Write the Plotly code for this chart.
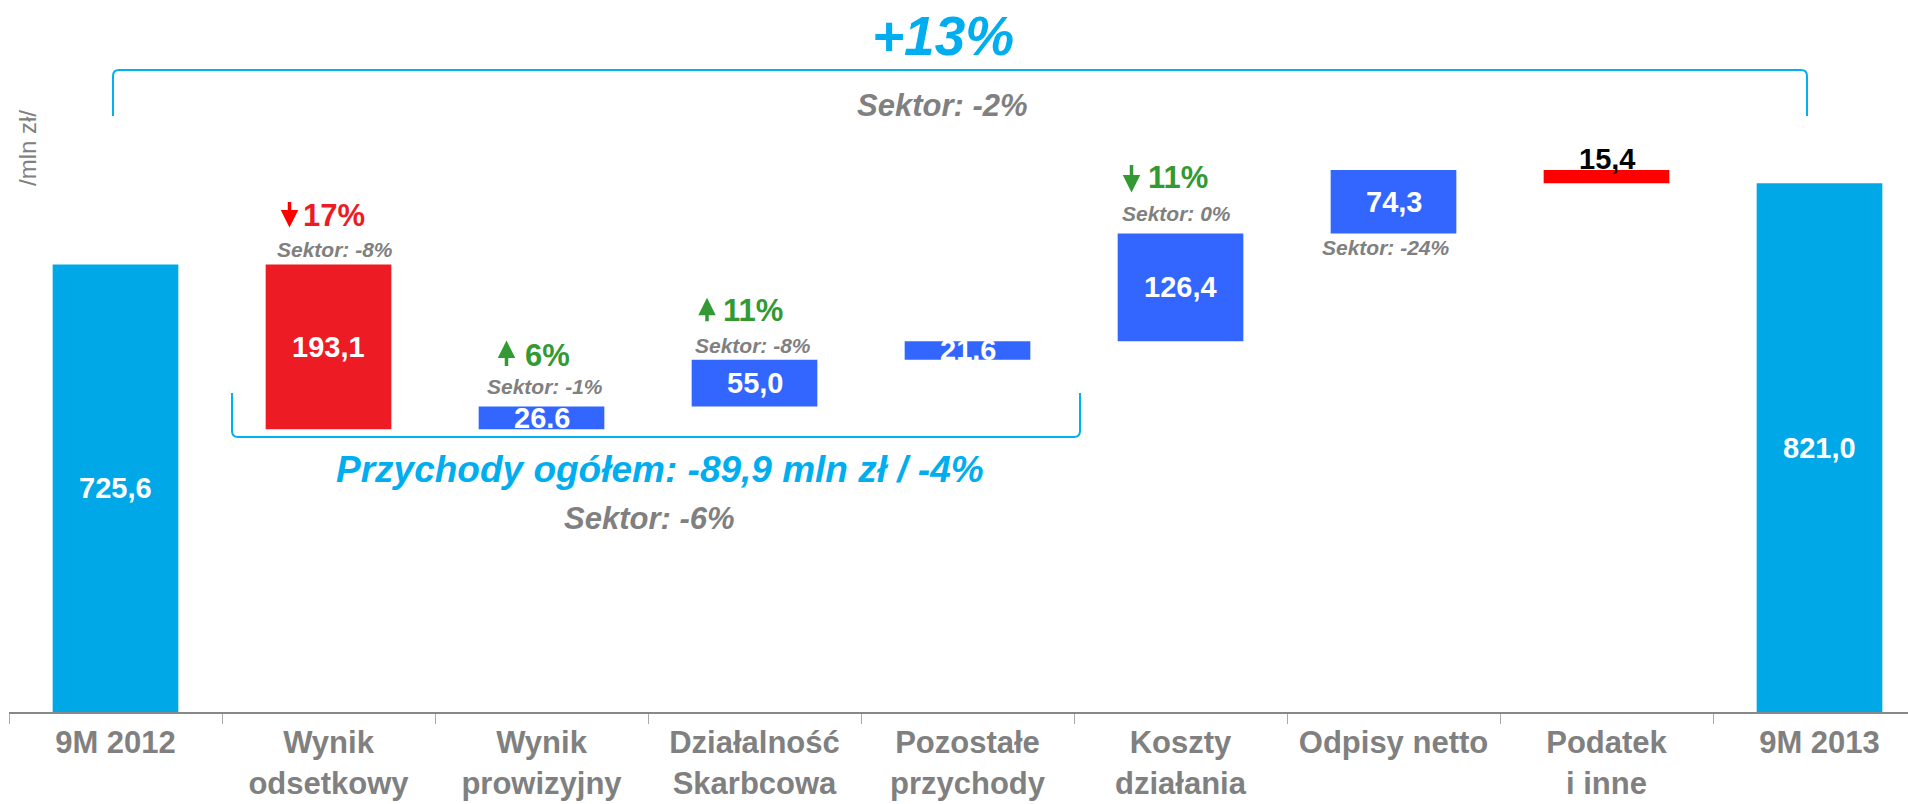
import plotly.graph_objects as go

# ---------------- data ----------------
categories = ["9M 2012", "Wynik<br>odsetkowy", "Wynik<br>prowizyjny", "Działalność<br>Skarbcowa",
              "Pozostałe<br>przychody", "Koszty<br>działania", "Odpisy netto", "Podatek<br>i inne", "9M 2013"]
start_value = 725.6
changes = [-193.1, 26.6, 55.0, 21.6, 126.4, 74.3, -15.4]   # effect on net profit
end_value = 821.0
value_labels = ["725,6", "193,1", "26.6", "55,0", "21.6", "126,4", "74,3", "15,4", "821,0"]
change_pct = [None, "17%", "6%", "11%", None, "11%", None, None, None]
change_dir = [None, "down", "up", "up", None, "down", None, None, None]
sector_labels = [None, "Sektor: -8%", "Sektor: -1%", "Sektor: -8%", None, "Sektor: 0%", "Sektor: -24%", None, None]
total_change = "+13%"
total_sector = "Sektor: -2%"
revenue_text = "Przychody ogółem: -89,9 mln zł / -4%"
revenue_sector = "Sektor: -6%"
unit_label = "/mln zł/"

# ---------------- styles ----------------
FONT = "Liberation Sans, Arial, sans-serif"
CYAN = "#00A8E8"
CYAN_TXT = "#00AEEF"
RED = "#ED1C24"
RED2 = "#FF0000"
BLUE = "#3366FF"
GREEN = "#339933"
GRAY = "#808080"

Y_MIN = 201
Y_MAX = 201 + 712 / 0.853

# waterfall geometry from data
bases, heights = [0.0], [start_value]
running = start_value
for d in changes:
    new = running + d
    bases.append(min(running, new))
    heights.append(abs(d))
    running = new
bases.append(0.0)
heights.append(running)
tops = [b + h for b, h in zip(bases, heights)]

colors = [CYAN, RED, BLUE, BLUE, BLUE, BLUE, BLUE, RED2, CYAN]

fig = go.Figure()
fig.add_trace(go.Bar(x=categories, y=heights, base=bases, marker=dict(color=colors, line=dict(width=0)),
                     width=0.59, hoverinfo="skip", textposition="none"))

# pixel helpers for decorations (plot area: x 9..1908, y 0..712)
PX0, PXW, PYH = 9, 1899, 712
def px(x):
    return (x - PX0) / PXW
def py(y):
    return (PYH - y) / PYH

ann = []
# value labels (centred on the visible part of each bar)
for i, (c, b, t, lab) in enumerate(zip(categories, bases, tops, value_labels)):
    if i == 7:
        ann.append(dict(x=c, y=t, text=lab, showarrow=False, yanchor="middle", yshift=11,
                        font=dict(family=FONT, size=29, color="black", weight="bold")))
    else:
        ann.append(dict(x=c, y=(max(b, Y_MIN) + t) / 2, text=lab, showarrow=False, yanchor="middle",
                        font=dict(family=FONT, size=29, color="white", weight="bold")))

# change annotations: (arrow dx, arrow lo, arrow hi, pct dx, pct up, sector dx, sector up)
offs = {
    1: (-39, 37, 64, 5, 49, 6.5, 15),
    2: (-35, 39, 66, 6, 51.5, 3.5, 20.5),
    3: (-47.5, 37, 62, -2, 49.6, -2, 14.6),
    5: (-49, 41, 70, -2.5, 56, -4, 19.4),
}
for i, o in offs.items():
    adx, lo, hi, pdx, pup, sdx, sup = o
    col = RED2 if i == 1 else GREEN
    if change_dir[i] == "down":
        head, tail = lo, hi
    else:
        head, tail = hi, lo
    ann.append(dict(x=categories[i], y=tops[i], text="", showarrow=True, xshift=adx, yshift=head,
                    ax=0, ay=head - tail, axref="pixel", ayref="pixel", arrowhead=2, arrowsize=1,
                    arrowwidth=3.5, arrowcolor=col, standoff=0, startstandoff=0))
    ann.append(dict(x=categories[i], y=tops[i], text=change_pct[i], showarrow=False, xshift=pdx,
                    yshift=pup, yanchor="middle",
                    font=dict(family=FONT, size=31, color=(RED if i == 1 else GREEN), weight="bold")))
    ann.append(dict(x=categories[i], y=tops[i], text="<i>" + sector_labels[i] + "</i>", showarrow=False,
                    xshift=sdx, yshift=sup, yanchor="middle",
                    font=dict(family=FONT, size=21, color=GRAY, weight="bold")))
# sector below odpisy
ann.append(dict(x=categories[6], y=bases[6], text="<i>" + sector_labels[6] + "</i>", showarrow=False,
                xshift=-7.5, yshift=-14.6, yanchor="middle",
                font=dict(family=FONT, size=21, color=GRAY, weight="bold")))

# big texts
ann.append(dict(xref="paper", yref="paper", x=px(943), y=py(36.5), text="<i>" + total_change + "</i>",
                showarrow=False, yanchor="middle", font=dict(family=FONT, size=55, color=CYAN_TXT, weight="bold")))
ann.append(dict(xref="paper", yref="paper", x=px(942), y=py(105), text="<i>" + total_sector + "</i>",
                showarrow=False, yanchor="middle", font=dict(family=FONT, size=31, color=GRAY, weight="bold")))
ann.append(dict(xref="paper", yref="paper", x=px(660), y=py(469.5), text="<i>" + revenue_text + "</i>",
                showarrow=False, yanchor="middle", font=dict(family=FONT, size=37, color=CYAN_TXT, weight="bold")))
ann.append(dict(xref="paper", yref="paper", x=px(649), y=py(518), text="<i>" + revenue_sector + "</i>",
                showarrow=False, yanchor="middle", font=dict(family=FONT, size=31, color=GRAY, weight="bold")))
ann.append(dict(xref="paper", yref="paper", x=px(28), y=py(148), text=unit_label, textangle=-90,
                showarrow=False, yanchor="middle", xanchor="center",
                font=dict(family=FONT, size=24, color=GRAY)))

def bracket(x0, x1, yv, yh, r):
    s = 1 if yh < yv else -1
    return (f"M {px(x0)},{py(yv)} L {px(x0)},{py(yh + s*r)} Q {px(x0)},{py(yh)} {px(x0 + r)},{py(yh)} "
            f"L {px(x1 - r)},{py(yh)} Q {px(x1)},{py(yh)} {px(x1)},{py(yh + s*r)} L {px(x1)},{py(yv)}")

shapes = [
    dict(type="path", xref="paper", yref="paper", path=bracket(113, 1807, 116, 70, 6),
         line=dict(color="#00B0F0", width=2)),
    dict(type="path", xref="paper", yref="paper", path=bracket(232, 1080, 393, 437, 6),
         line=dict(color="#00B0F0", width=2)),
]

fig.update_layout(
    width=1908, height=804,
    margin=dict(l=9, r=0, t=0, b=92, autoexpand=False),
    paper_bgcolor="white", plot_bgcolor="white",
    showlegend=False, bargap=0.41,
    annotations=ann, shapes=shapes,
    xaxis=dict(type="category", categoryarray=categories, range=[-0.5, -0.5 + 1899 / 213],
               showline=True, linecolor="#888888", linewidth=2, ticks="outside", tickson="boundaries",
               ticklen=10, tickcolor="#AAAAAA", tickwidth=1, showgrid=False, zeroline=False,
               tickangle=0, automargin=False, ticklabelstandoff=2,
               tickfont=dict(family=FONT, size=31, color=GRAY, weight="bold")),
    yaxis=dict(range=[Y_MIN, Y_MAX], visible=False, showgrid=False, zeroline=False),
)

fig.write_html("out.html", config={"displayModeBar": False},
               post_script="document.body.style.margin='0';")
